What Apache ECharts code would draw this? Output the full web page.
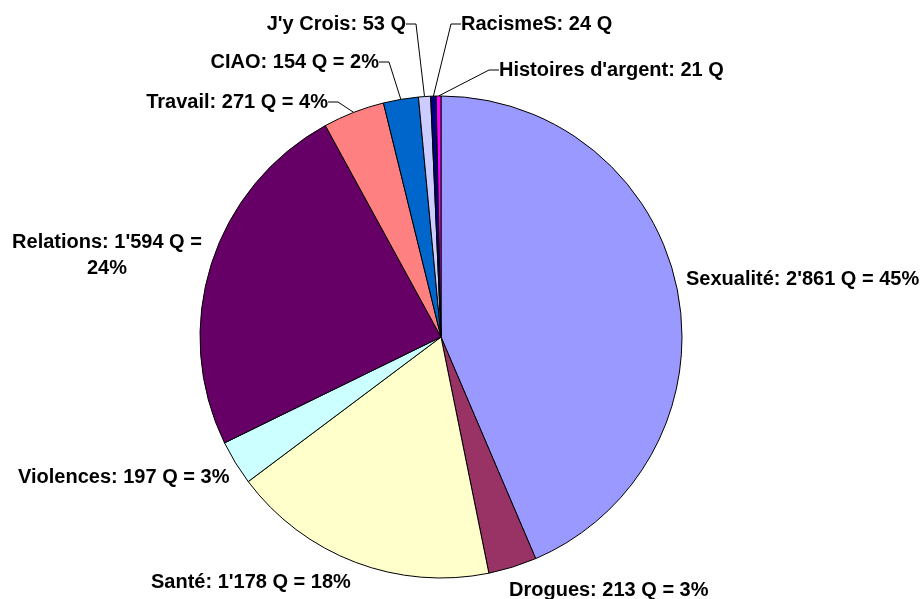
<!DOCTYPE html>
<html>
<head>
<meta charset="utf-8">
<title>Questions par thème</title>
<script src="https://cdn.jsdelivr.net/npm/echarts@6/dist/echarts.min.js"></script>
<style>
html, body { margin: 0; padding: 0; background: #fff; }
#chart { width: 920px; height: 599px; }
</style>
</head>
<body>
<div id="chart"></div>
<script>
// données du graphique
var categories = ['Sexualité', 'Drogues', 'Santé', 'Violences', 'Relations', 'Travail', 'CIAO', "J'y Crois", 'RacismeS', "Histoires d'argent"];
var values = [2861, 213, 1178, 197, 1594, 271, 154, 53, 24, 21];
var labelTexts = [
    "Sexualité: 2'861 Q = 45%",
    'Drogues: 213 Q = 3%',
    "Santé: 1'178 Q = 18%",
    'Violences: 197 Q = 3%',
    "Relations: 1'594 Q =\n24%",
    'Travail: 271 Q = 4%',
    'CIAO: 154 Q = 2%',
    "J'y Crois: 53 Q",
    'RacismeS: 24 Q',
    "Histoires d'argent: 21 Q"
];
var colors = ['#9999FF', '#993366', '#FFFFCC', '#CCFFFF', '#660066', '#FF8080', '#0066CC', '#CCCCFF', '#000080', '#FF00FF'];

// position des étiquettes
var labelPos = [
    {x: 686, y: 279, align: 'left'},
    {x: 509, y: 590, align: 'left'},
    {x: 151, y: 582, align: 'left'},
    {x: 18, y: 477, align: 'left'},
    {x: 107, y: 255, align: 'center'},
    {x: 328, y: 102, align: 'right'},
    {x: 379, y: 62, align: 'right'},
    {x: 406, y: 24, align: 'right'},
    {x: 461, y: 24, align: 'left'},
    {x: 499, y: 70, align: 'left'}
];
var withLine = [false, false, false, false, false, true, true, true, true, true];

var myChart = echarts.init(document.getElementById('chart'));

var data = [];
for (var i = 0; i < categories.length; i++) {
    data.push({
        name: categories[i],
        value: values[i],
        itemStyle: { color: colors[i] },
        labelLine: { show: withLine[i] }
    });
}

var option = {
    animation: false,
    series: [{
        type: 'pie',
        center: [441, 337],
        radius: 241,
        startAngle: 90,
        clockwise: true,
        avoidLabelOverlap: false,
        itemStyle: { borderColor: '#000', borderWidth: 1 },
        label: {
            show: true,
            position: 'outside',
            formatter: function (p) { return labelTexts[p.dataIndex]; },
            fontFamily: 'Liberation Sans, Arial, sans-serif',
            fontWeight: 'bold',
            fontSize: 20,
            color: '#000',
            lineHeight: 26
        },
        labelLine: {
            lineStyle: { color: '#000', width: 1 },
            length: 10,
            length2: 10
        },
        labelLayout: function (params) {
            var p = labelPos[params.dataIndex];
            return { x: p.x, y: p.y, align: p.align, verticalAlign: 'middle', hideOverlap: false };
        },
        emphasis: { disabled: true },
        data: data
    }]
};
myChart.setOption(option);
</script>
</body>
</html>
